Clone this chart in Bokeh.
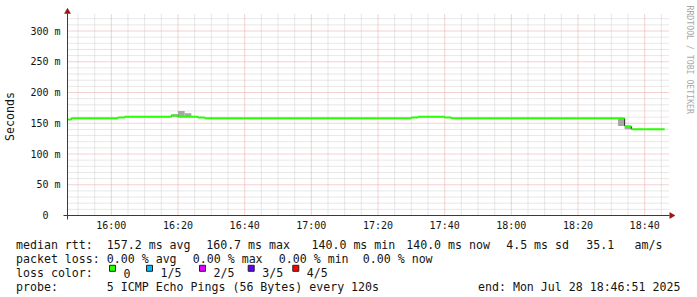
import math
from datetime import datetime
from bokeh.plotting import figure
from bokeh.models import (Range1d, FixedTicker, DatetimeTickFormatter, Label,
                          DatetimeAxis, LinearAxis)
from bokeh.embed import file_html
from bokeh.resources import INLINE

# ---------------- data ----------------
DAY = "2025-07-28"
range_start = "15:46:51"
range_end = "18:46:51"

# median RTT (ms) as step segments
seg_start = ["15:46:51", "15:48:00", "16:02:00", "16:04:00", "16:18:00", "16:20:00",
             "16:26:00", "16:28:00", "17:30:00", "17:32:00", "17:40:00", "17:42:00",
             "18:34:00", "18:36:00"]
seg_end = ["15:48:00", "16:02:00", "16:04:00", "16:18:00", "16:20:00", "16:26:00",
           "16:28:00", "17:30:00", "17:32:00", "17:40:00", "17:42:00", "18:34:00",
           "18:36:00", "18:46:00"]
median_ms = [156.2, 158.1, 159.3, 160.5, 162.4, 160.6,
             159.3, 158.2, 159.4, 160.5, 159.4, 158.1,
             145.1, 140.3]

# smoke (spread of the pings), ms
smoke_start = ["16:18:00", "16:20:00", "16:22:00", "18:32:00", "18:34:00"]
smoke_end = ["16:20:00", "16:22:00", "16:24:00", "18:34:00", "18:36:00"]
smoke_lo = [160.5, 160.6, 160.6, 145.6, 140.3]
smoke_hi = [164.5, 170.0, 166.2, 158.1, 144.0]

y_ticks = [0, 50, 100, 150, 200, 250, 300]
y_tick_labels = ["0\u00a0\u00a0", "50 m", "100 m", "150 m", "200 m", "250 m", "300 m"]
y_minor = [10, 20, 30, 40, 60, 70, 80, 90, 110, 120, 130, 140, 160, 170, 180, 190,
           210, 220, 230, 240, 260, 270, 280, 290, 310, 320]
x_tick_labels = ["16:00", "16:20", "16:40", "17:00", "17:20", "17:40", "18:00", "18:20", "18:40"]
x_minor_labels = ["15:50", "15:55", "16:05", "16:10", "16:15", "16:25", "16:30", "16:35",
                  "16:45", "16:50", "16:55", "17:05", "17:10", "17:15", "17:25", "17:30",
                  "17:35", "17:45", "17:50", "17:55", "18:05", "18:10", "18:15", "18:25",
                  "18:30", "18:35", "18:45"]

loss_labels = ["0", "1/5", "2/5", "3/5", "4/5"]
loss_colors = ["#26ff00", "#00b8ff", "#dd00ff", "#5e00ff", "#ff0000"]

legend_rows = [
    [("median rtt:", 15.5), ("157.2 ms avg", 106.3), ("160.7 ms max", 205.7),
     ("140.0 ms min", 311.0), ("140.0 ms now", 405.7), ("4.5 ms sd", 505.7),
     ("35.1", 585.7), ("am/s", 634.0)],
    [("packet loss:", 15.5), ("0.00 % avg", 106.3), ("0.00 % max", 192.3),
     ("0.00 % min", 278.3), ("0.00 % now", 362.3)],
    [("loss color:", 15.5)],
    [("probe:", 15.5), ("5 ICMP Echo Pings (56 Bytes) every 120s", 106.3),
     ("end: Mon Jul 28 18:46:51 2025", 477.5)],
]
legend_baselines = [244.4, 258.5, 272.6, 286.7]
loss_box_x = [112.0, 149.0, 202.0, 250.7, 295.3]
loss_text_x = [123.0, 160.0, 213.0, 261.7, 306.3]

# ---------------- helpers ----------------
EPOCH = datetime(1970, 1, 1)


def ms(t):
    s = t if t.count(":") == 2 else t + ":00"
    d = datetime.strptime(DAY + " " + s, "%Y-%m-%d %H:%M:%S")
    return (d - EPOCH).total_seconds() * 1000.0


W, H = 697, 297
FL, FR, FT, FB = 67, 667, 13, 215     # rrd graph area in pixels
PX_PER_Y = (FB - 30.5) / 300.0
t0, t1 = ms(range_start), ms(range_end)
MS_PER_PX = (t1 - t0) / (FR - FL)


def X(px):
    return t0 + (px - FL) * MS_PER_PX


def Y(py):
    return (FB - py) / PX_PER_Y


FONT = "DejaVu Sans Mono"
AXIS = "#3a3a3a"
ARROW = "#9a1414"
MAJOR = "#e8a4a4"
MINOR = "#cfcfcf"
TXT = "#141414"

p = figure(width=W, height=H, output_backend="svg", toolbar_location=None,
           x_axis_location=None, y_axis_location=None,
           x_range=Range1d(X(0), X(W)), y_range=Range1d(Y(H), Y(0)),
           min_border_left=0, min_border_right=0, min_border_top=0, min_border_bottom=0)
p.outline_line_color = None
p.background_fill_color = "white"
p.border_fill_color = "white"
p.xgrid.visible = False
p.ygrid.visible = False

# ---------------- grid ----------------
xm = [ms(t) for t in x_tick_labels]
xn = [ms(t) for t in x_minor_labels]
p.segment(x0=xn, x1=xn, y0=[0] * len(xn), y1=[Y(FT)] * len(xn),
          line_color=MINOR, line_width=1, line_dash="1 1")
p.segment(x0=[t0] * len(y_minor), x1=[X(669)] * len(y_minor), y0=y_minor, y1=y_minor,
          line_color=MINOR, line_width=1, line_dash="1 1")
p.segment(x0=xm, x1=xm, y0=[0] * len(xm), y1=[Y(FT)] * len(xm),
          line_color=MAJOR, line_width=1, line_dash="1 1")
yM = y_ticks[1:]
p.segment(x0=[t0] * len(yM), x1=[X(669)] * len(yM), y0=yM, y1=yM,
          line_color=MAJOR, line_width=1, line_dash="1 1")

# ---------------- axes ----------------
xt = FixedTicker(ticks=xm)
yt = FixedTicker(ticks=y_ticks)
xaxis = DatetimeAxis(fixed_location=0, ticker=xt, bounds=(X(63), X(669)),
                     formatter=DatetimeTickFormatter(minsec="%H:%M", minutes="%H:%M",
                                                     hourmin="%H:%M", hours="%H:%M"))
yaxis = LinearAxis(fixed_location=t0, ticker=yt, bounds=(Y(218.5), Y(12.7)))
yaxis.major_label_overrides = {v: s for v, s in zip(y_ticks, y_tick_labels)}
for ax in (xaxis, yaxis):
    ax.axis_line_color = AXIS
    ax.axis_line_width = 1
    ax.major_tick_line_color = None
    ax.minor_tick_line_color = None
    ax.major_tick_out = 0
    ax.major_tick_in = 0
    ax.minor_tick_out = 0
    ax.minor_tick_in = 0
    ax.major_label_text_font = FONT
    ax.major_label_text_font_size = "10px"
    ax.major_label_text_color = TXT
xaxis.major_label_standoff = 4
yaxis.major_label_standoff = 7
yaxis.axis_label = "Seconds"
yaxis.axis_label_text_font = FONT
yaxis.axis_label_text_font_size = "11.6px"
yaxis.axis_label_text_font_style = "normal"
yaxis.axis_label_text_color = TXT
yaxis.axis_label_standoff = 10
p.add_layout(xaxis, "below")
p.add_layout(yaxis, "left")

# ---------------- data marks ----------------
p.quad(left=[ms(t) for t in smoke_start], right=[ms(t) for t in smoke_end],
       bottom=smoke_lo, top=smoke_hi, fill_color="#a6a6a6", line_color=None)
p.segment(x0=[ms(t) for t in seg_start[1:]], x1=[ms(t) for t in seg_start[1:]],
          y0=median_ms[:-1], y1=median_ms[1:], line_color="#202020", line_width=1)
p.segment(x0=[ms(t) for t in seg_start], x1=[ms(t) for t in seg_end],
          y0=median_ms, y1=median_ms, line_color="#26ff00", line_width=2)

# axis arrows
p.scatter(x=[t0], y=[Y(11.2)], marker="triangle", size=6,
          fill_color=ARROW, line_color=ARROW, line_width=0.5)
p.scatter(x=[X(671)], y=[0], marker="triangle", size=6, angle=-math.pi / 2,
          fill_color=ARROW, line_color=ARROW, line_width=0.5)

# watermark
p.add_layout(Label(x=X(689), y=Y(5), text="RRDTOOL / TOBI OETIKER", angle=-math.pi / 2,
                   text_align="left", text_baseline="middle", text_font=FONT,
                   text_font_size="8.2px", text_color="#a8a8a8"))

# legend text
for row, base in zip(legend_rows, legend_baselines):
    for txt, px in row:
        p.add_layout(Label(x=X(px), y=Y(base), text=txt, text_align="left",
                           text_baseline="alphabetic", text_font=FONT,
                           text_font_size="11.6px", text_color=TXT))
for txt, px in zip(loss_labels, loss_text_x):
    p.add_layout(Label(x=X(px), y=Y(legend_baselines[2]), text=txt, text_align="left",
                       text_baseline="alphabetic", text_font=FONT,
                       text_font_size="11.6px", text_color=TXT))

p.scatter(x=[X(v) for v in loss_box_x], y=[Y(267.8)] * len(loss_box_x),
          marker="square", size=6, fill_color=loss_colors,
          line_color="#222222", line_width=1)

open("out.html", "w").write(file_html(p, INLINE))
